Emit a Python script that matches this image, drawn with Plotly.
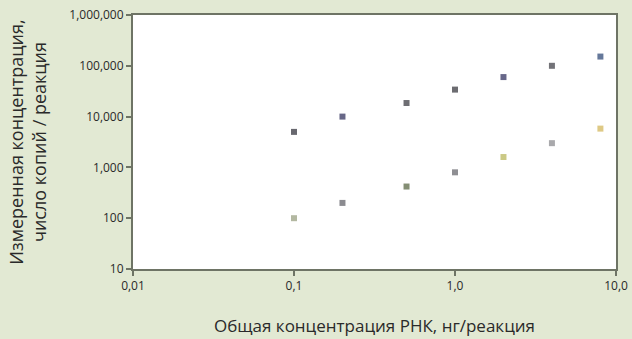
import plotly.graph_objects as go

x_vals = [0.1, 0.2, 0.5, 1.0, 2.0, 4.0, 8.0]
upper_vals = [5000, 10000, 18500, 34000, 60000, 100000, 152000]
lower_vals = [100, 200, 420, 800, 1600, 3000, 5800]
upper_colors = ["#4e4e56", "#4c4c72", "#55555a", "#525258", "#4c4c74", "#5a5a60", "#4a6088"]
lower_colors = ["#a6ab90", "#77777c", "#6f7a5c", "#7b7b80", "#c2bf70", "#9a9a9e", "#d8c070"]

x_ticks = [0.01, 0.1, 1.0, 10.0]
x_tick_labels = ["0,01", "0,1", "1,0", "10,0"]
y_ticks = [10, 100, 1000, 10000, 100000, 1000000]
y_tick_labels = ["10", "100", "1,000", "10,000", "100,000", "1,000,000"]

fig = go.Figure()
fig.add_trace(go.Scatter(x=x_vals, y=upper_vals, mode="markers",
                         marker=dict(symbol="square", size=6, color=upper_colors, opacity=0.85,
                                     line=dict(width=0)),
                         showlegend=False))
fig.add_trace(go.Scatter(x=x_vals, y=lower_vals, mode="markers",
                         marker=dict(symbol="square", size=6, color=lower_colors, opacity=0.85,
                                     line=dict(width=0)),
                         showlegend=False))

axis_common = dict(showgrid=False, zeroline=False, showline=True, linecolor="#6e7465",
                   linewidth=2, mirror=True, ticks="outside", ticklen=5, tickwidth=2,
                   tickcolor="#6e7465", tickfont=dict(family="Open Sans", size=12, color="#2a2a2a"),
                   automargin=False)

fig.update_layout(
    width=632, height=339,
    margin=dict(l=133, r=16, t=15, b=70),
    paper_bgcolor="#e2e9d3",
    plot_bgcolor="#ffffff",
    font=dict(family="Open Sans", color="#2a2a2a"),
    xaxis=dict(type="log", range=[-2, 1], tickvals=x_ticks, ticktext=x_tick_labels,
               title=dict(text="Общая концентрация РНК, нг/реакция", font=dict(size=17), standoff=27),
               **axis_common),
    yaxis=dict(type="log", range=[1, 6], tickvals=y_ticks, ticktext=y_tick_labels,
               title=dict(text="Измеренная концентрация,<br>число копий / реакция", font=dict(size=18), standoff=18),
               **axis_common),
)

fig.write_html("out.html", config={"displayModeBar": False},
               post_script="document.body.style.margin='0';")
